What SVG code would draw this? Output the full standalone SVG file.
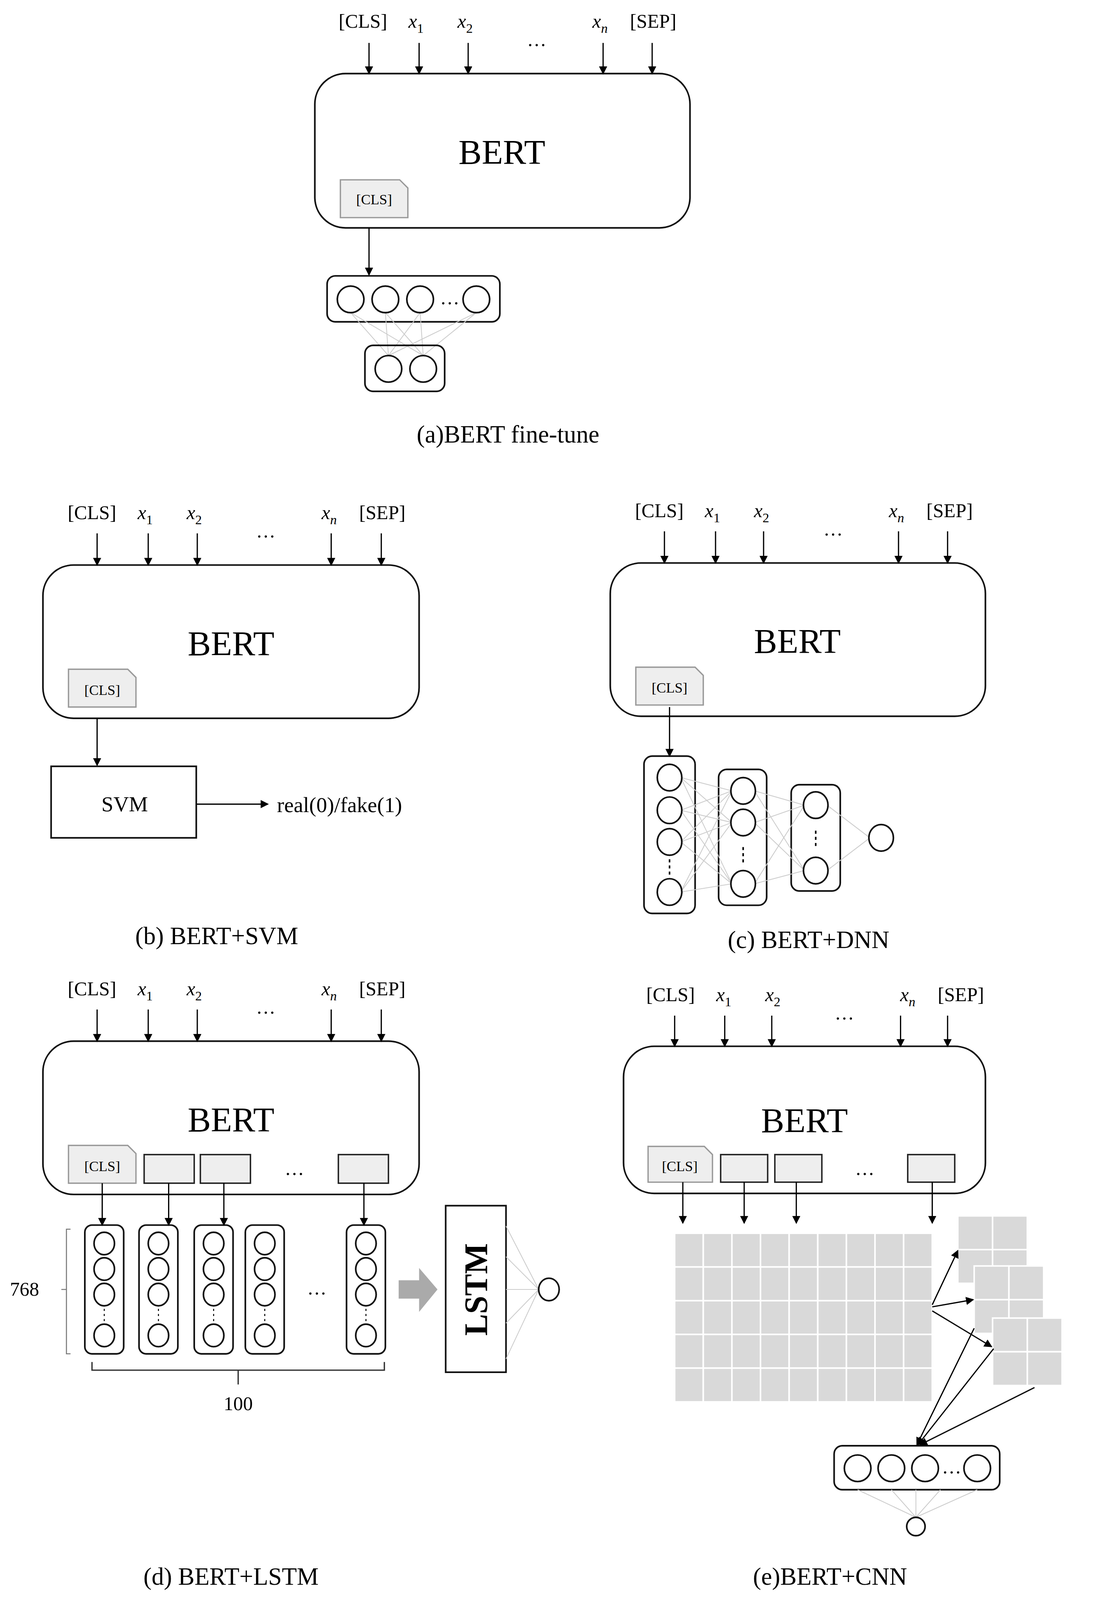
<svg xmlns="http://www.w3.org/2000/svg" width="2825" height="4209" viewBox="0 0 2825 4209">
<defs>
<marker id="ah" markerWidth="8" markerHeight="8" refX="7" refY="4" orient="auto" markerUnits="userSpaceOnUse"><path d="M0,0 L8,4 L0,8 z" fill="#000"/></marker>
<g id="inputs">
<text x="0" y="0" class="lb" text-anchor="middle">[CLS]</text>
<text x="52" y="0" class="lb" text-anchor="middle"><tspan class="it">x</tspan><tspan class="sub" dy="5">1</tspan></text>
<text x="100" y="0" class="lb" text-anchor="middle"><tspan class="it">x</tspan><tspan class="sub" dy="5">2</tspan></text>
<text x="170" y="18" class="lb" text-anchor="middle">…</text>
<text x="232" y="0" class="lb" text-anchor="middle"><tspan class="it">x</tspan><tspan class="sub it" dy="5">n</tspan></text>
<text x="284" y="0" class="lb" text-anchor="middle">[SEP]</text>
</g>
<path id="tag" d="M0,0 H58 L66,8 V37 H0 z" fill="#eee" stroke="#999" stroke-width="1.3"/>
<path id="tagE" d="M0,0 H55 L63,8 V35 H0 z" fill="#eee" stroke="#999" stroke-width="1.3"/>
</defs>
<style>
text{font-family:"Liberation Serif","DejaVu Serif",serif;fill:#000}
.lb{font-size:19px}
.it{font-style:italic}
.sub{font-size:13px}
.bert{font-size:34px}
.cap{font-size:24px}
.small{font-size:14px}
.box{fill:#fff;stroke:#111;stroke-width:1.6}
.arr{stroke:#000;stroke-width:1.2;fill:none;marker-end:url(#ah)}
.nd{fill:#fff;stroke:#111;stroke-width:1.6}
.gl{stroke:#ccc;stroke-width:0.8;fill:none}
.tk{fill:#eee;stroke:#222;stroke-width:1.4}
.cell{fill:#d9d9d9;stroke:#fff;stroke-width:1.5}
</style>
<rect width="2825" height="4209" fill="#fff"/>
<g transform="scale(2.6157)">
<!-- (a) -->
<g id="panel-a">
<use href="#inputs" x="355" y="27"/>
<rect class="box" x="308" y="72" width="367" height="151" rx="30"/>
<text class="bert" x="491" y="160" text-anchor="middle">BERT</text>
<use href="#tag" x="333" y="176"/>
<text class="small" x="366" y="200" text-anchor="middle">[CLS]</text>
<rect class="box" x="320" y="270" width="169" height="45" rx="8"/>
<g class="gl">
<path d="M343,306 L380,348 M343,306 L414,348 M377,306 L380,348 M377,306 L414,348 M411,306 L380,348 M411,306 L414,348 M466,306 L380,348 M466,306 L414,348"/>
</g>
<circle class="nd" cx="343" cy="293" r="13"/><circle class="nd" cx="377" cy="293" r="13"/><circle class="nd" cx="411" cy="293" r="13"/><circle class="nd" cx="466" cy="293" r="13"/>
<text class="lb" x="440" y="298" text-anchor="middle">…</text>
<rect class="box" x="357" y="338" width="78" height="45" rx="8" style="fill:none"/>
<circle class="nd" cx="380" cy="361" r="13"/><circle class="nd" cx="414" cy="361" r="13"/>
<text class="cap" x="497" y="433" text-anchor="middle">(a)BERT fine-tune</text>
</g>
<!-- (b) -->
<g id="panel-b">
<use href="#inputs" x="90" y="508"/>
<rect class="box" x="42" y="553" width="368" height="150" rx="30"/>
<text class="bert" x="226" y="641" text-anchor="middle">BERT</text>
<use href="#tag" x="67" y="655"/>
<text class="small" x="100" y="680" text-anchor="middle">[CLS]</text>
<rect class="box" x="50" y="750" width="142" height="70"/>
<text x="122" y="794" text-anchor="middle" style="font-size:21px">SVM</text>
<text x="271" y="795" style="font-size:21px">real(0)/fake(1)</text>
<text class="cap" x="212" y="924" text-anchor="middle">(b) BERT+SVM</text>
</g>
<!-- (c) -->
<g id="panel-c">
<use href="#inputs" x="645" y="506"/>
<rect class="box" x="597" y="551" width="367" height="150" rx="30"/>
<text class="bert" x="780" y="639" text-anchor="middle">BERT</text>
<use href="#tag" x="622" y="653"/>
<text class="small" x="655" y="678" text-anchor="middle">[CLS]</text>
<rect class="box" x="630" y="740" width="50" height="154" rx="8"/>
<rect class="box" x="703" y="753" width="47" height="133" rx="8"/>
<rect class="box" x="774" y="768" width="48" height="104" rx="8"/>
<g class="gl">
<path d="M666,761 L716,774 M666,761 L716,805 M666,761 L716,865 M666,793 L716,774 M666,793 L716,805 M666,793 L716,865 M666,824 L716,774 M666,824 L716,805 M666,824 L716,865 M666,873 L716,774 M666,873 L716,805 M666,873 L716,865"/>
<path d="M738,774 L787,788 M738,774 L787,852 M738,805 L787,788 M738,805 L787,852 M738,865 L787,788 M738,865 L787,852"/>
<path d="M809,788 L851,820 M809,852 L851,820"/>
</g>
<ellipse class="nd" cx="655" cy="761" rx="12" ry="13"/><ellipse class="nd" cx="655" cy="793" rx="12" ry="13"/><ellipse class="nd" cx="655" cy="824" rx="12" ry="13"/><ellipse class="nd" cx="655" cy="873" rx="12" ry="13"/>
<path d="M655,841 v3 M655,847 v3 M655,853 v3" stroke="#000" stroke-width="1.5"/>
<ellipse class="nd" cx="727" cy="774" rx="12" ry="13"/><ellipse class="nd" cx="727" cy="805" rx="12" ry="13"/><ellipse class="nd" cx="727" cy="865" rx="12" ry="13"/>
<path d="M727,829 v3 M727,835 v3 M727,841 v3" stroke="#000" stroke-width="1.5"/>
<ellipse class="nd" cx="798" cy="788" rx="12" ry="13"/><ellipse class="nd" cx="798" cy="852" rx="12" ry="13"/>
<path d="M798,813 v3 M798,819 v3 M798,825 v3" stroke="#000" stroke-width="1.5"/>
<ellipse class="nd" cx="862" cy="820" rx="12" ry="13"/>
<text class="cap" x="791" y="928" text-anchor="middle">(c) BERT+DNN</text>
</g>
<!-- (d) -->
<g id="panel-d">
<use href="#inputs" x="90" y="974"/>
<rect class="box" x="42" y="1019" width="368" height="150" rx="30"/>
<text class="bert" x="226" y="1107" text-anchor="middle">BERT</text>
<use href="#tag" x="67" y="1121"/>
<text class="small" x="100" y="1146" text-anchor="middle">[CLS]</text>
<rect class="tk" x="141" y="1130" width="49" height="28"/>
<rect class="tk" x="196" y="1130" width="49" height="28"/>
<rect class="tk" x="331" y="1130" width="49" height="28"/>
<text class="lb" x="288" y="1150" text-anchor="middle">…</text>
<g id="col"><rect class="box" x="83" y="1199" width="38" height="126" rx="7"/>
<ellipse class="nd" cx="102" cy="1217" rx="10" ry="11"/><ellipse class="nd" cx="102" cy="1242" rx="10" ry="11"/><ellipse class="nd" cx="102" cy="1267" rx="10" ry="11"/><ellipse class="nd" cx="102" cy="1307" rx="10" ry="11"/>
<path d="M102,1281 v2 M102,1286 v2 M102,1291 v2" stroke="#000" stroke-width="1"/></g>
<use href="#col" x="53"/><use href="#col" x="107"/><use href="#col" x="157"/><use href="#col" x="256"/>
<text class="lb" x="310" y="1267" text-anchor="middle">…</text>
<path d="M69,1203 H65 V1325 H69 M65,1262 H60" stroke="#777" stroke-width="1" fill="none"/>
<text class="lb" x="24" y="1268" text-anchor="middle">768</text>
<path d="M90,1333 V1341 H376 V1333 M233,1341 V1355" stroke="#333" stroke-width="1.3" fill="none"/>
<text class="lb" x="233" y="1380" text-anchor="middle">100</text>
<path d="M390,1253 H410 V1241 L428,1262 L410,1284 V1271 H390 z" fill="#aaa"/>
<rect class="box" x="436" y="1180" width="59" height="163"/>
<text x="466" y="1262" text-anchor="middle" dominant-baseline="central" transform="rotate(-90 466 1262)" style="font-size:32px;font-weight:bold">LSTM</text>
<g class="gl"><path d="M495,1200 L527,1262 M495,1230 L527,1262 M495,1262 L527,1262 M495,1295 L527,1262 M495,1330 L527,1262"/></g>
<ellipse class="nd" cx="537" cy="1262" rx="10" ry="11"/>
<text class="cap" x="226" y="1551" text-anchor="middle">(d) BERT+LSTM</text>
</g>
<!-- (e) -->
<g id="panel-e">
<use href="#inputs" x="656" y="980"/>
<rect class="box" x="610" y="1024" width="354" height="144" rx="30"/>
<text class="bert" x="787" y="1108" text-anchor="middle">BERT</text>
<use href="#tagE" x="634" y="1122"/>
<text class="small" x="665" y="1146" text-anchor="middle">[CLS]</text>
<rect class="tk" x="705" y="1130" width="46" height="27"/>
<rect class="tk" x="758" y="1130" width="46" height="27"/>
<rect class="tk" x="888" y="1130" width="46" height="27"/>
<text class="lb" x="846" y="1150" text-anchor="middle">…</text>
<g id="rows">
<rect class="cell" x="660" y="1207" width="28" height="33"/><rect class="cell" x="688" y="1207" width="28" height="33"/><rect class="cell" x="716" y="1207" width="28" height="33"/><rect class="cell" x="744" y="1207" width="28" height="33"/><rect class="cell" x="772" y="1207" width="28" height="33"/><rect class="cell" x="800" y="1207" width="28" height="33"/><rect class="cell" x="828" y="1207" width="28" height="33"/><rect class="cell" x="856" y="1207" width="28" height="33"/><rect class="cell" x="884" y="1207" width="28" height="33"/>
</g>
<use href="#rows" y="33"/><use href="#rows" y="66"/><use href="#rows" y="99"/><use href="#rows" y="132"/>
<g id="fm1"><rect class="cell" x="937" y="1190" width="34" height="33"/><rect class="cell" x="971" y="1190" width="34" height="33"/><rect class="cell" x="937" y="1223" width="34" height="33"/><rect class="cell" x="971" y="1223" width="34" height="33"/></g>
<use href="#fm1" x="16" y="49"/><use href="#fm1" x="34" y="100"/>
<rect class="box" x="816" y="1415" width="162" height="43" rx="8"/>
<circle class="nd" cx="839" cy="1437" r="13"/><circle class="nd" cx="872" cy="1437" r="13"/><circle class="nd" cx="905" cy="1437" r="13"/><circle class="nd" cx="956" cy="1437" r="13"/>
<text class="lb" x="931" y="1442" text-anchor="middle">…</text>
<g class="gl"><path d="M839,1458 L896,1485 M872,1458 L896,1485 M896,1458 L896,1485 M920,1458 L896,1485 M956,1458 L896,1485"/></g>
<circle class="nd" cx="896" cy="1494" r="9"/>
<text class="cap" x="812" y="1551" text-anchor="middle">(e)BERT+CNN</text>
</g>
<!-- connectors -->
<g id="connectors">
<path class="arr" d="M361,42 V72"/><path class="arr" d="M410,42 V72"/><path class="arr" d="M458,42 V72"/><path class="arr" d="M590,42 V72"/><path class="arr" d="M638,42 V72"/>
<path class="arr" d="M361,223 V269"/>
<path class="arr" d="M95,522 V553"/><path class="arr" d="M145,522 V553"/><path class="arr" d="M193,522 V553"/><path class="arr" d="M324,522 V553"/><path class="arr" d="M373,522 V553"/>
<path class="arr" d="M95,703 V749"/>
<path class="arr" d="M192,787 H262"/>
<path class="arr" d="M650,520 V551"/><path class="arr" d="M700,520 V551"/><path class="arr" d="M747,520 V551"/><path class="arr" d="M879,520 V551"/><path class="arr" d="M927,520 V551"/>
<path class="arr" d="M655,692 V740"/>
<path class="arr" d="M95,988 V1019"/><path class="arr" d="M145,988 V1019"/><path class="arr" d="M193,988 V1019"/><path class="arr" d="M324,988 V1019"/><path class="arr" d="M373,988 V1019"/>
<path class="arr" d="M100,1158 V1199"/><path class="arr" d="M165,1158 V1199"/><path class="arr" d="M219,1158 V1199"/><path class="arr" d="M356,1158 V1199"/>
<path class="arr" d="M660,994 V1024"/><path class="arr" d="M709,994 V1024"/><path class="arr" d="M755,994 V1024"/><path class="arr" d="M881,994 V1024"/><path class="arr" d="M927,994 V1024"/>
<path class="arr" d="M668,1157 V1197"/><path class="arr" d="M728,1157 V1197"/><path class="arr" d="M779,1157 V1197"/><path class="arr" d="M912,1157 V1197"/>
<path class="arr" d="M912,1277 L937,1224"/>
<path class="arr" d="M912,1279 L952,1272"/>
<path class="arr" d="M912,1283 L970,1318"/>
<path class="arr" d="M953,1300 L897,1414"/>
<path class="arr" d="M972,1320 L898,1414"/>
<path class="arr" d="M1012,1358 L900,1414"/>
</g>
</g>
</svg>
